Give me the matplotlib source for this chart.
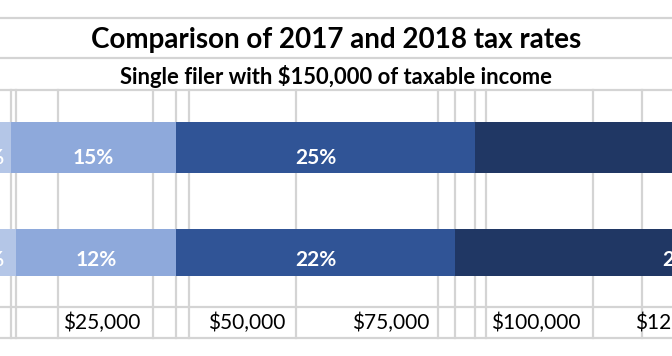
import matplotlib.pyplot as plt
import numpy as np

plt.rcParams['font.family'] = ['Lato', 'DejaVu Sans']

# bracket edges in thousands of dollars
years = ['2017', '2018']
edges_2017 = [0, 9.3, 37.8, 89.6, 191.7]
edges_2018 = [0, 10.1, 37.8, 86.1, 164.7]
rates_2017 = ['10%', '15%', '25%', '28%']
rates_2018 = ['10%', '12%', '22%', '24%']
tick_vals = [25, 50, 75, 100, 125]
tick_labels = ['$25,000', '$50,000', '$75,000', '$100,000', '$125,000']
# spreadsheet column borders behind the chart (thousands of dollars)
col_borders = [9.27, 10.14, 17.4, 33.84, 37.8, 40.07, 58.58, 83.15, 86.09,
               89.55, 91.45, 109.97, 118.45]

colors = ['#B4C6E7', '#8EA9DB', '#305496', '#203764']
grid = '#D4D4D4'

W, H = 672, 356
fig = plt.figure(figsize=(W / 100, H / 100), dpi=100)
ax = fig.add_axes([0, 0, 1, 1])
ax.set_xlim(7.37, 123.6)
ax.set_ylim(1.986, -1.405)
ax.axis('off')

def yf(px):
    return 1 - px / H

# sheet gridlines
for py in [18, 58, 90, 307, 338]:
    fig.add_artist(plt.Line2D([0, 1], [yf(py), yf(py)], color=grid, lw=1.6))
for c in col_borders:
    ax.plot([c, c], [1.814, -0.548], color=grid, lw=1.6, zorder=1)

# stacked bars
all_edges = [edges_2017, edges_2018]
all_rates = [rates_2017, rates_2018]
heights = [0.481, 0.441]
n = len(rates_2017)
for row, (e, r) in enumerate(zip(all_edges, all_rates)):
    e = np.array(e)
    ax.barh(row, np.diff(e), left=e[:-1], height=heights[row], color=colors,
            edgecolor='none', zorder=2)
    for i, lab in enumerate(r):
        # inner labels sit over the span both years share
        if i < n - 1:
            end = min(edges_2017[i + 1], edges_2018[i + 1])
        else:
            end = e[i + 1]
        xc = (e[i] + end) / 2
        ax.text(xc, row + heights[row] / 2 - 0.05, lab, color='white',
                fontsize=15, fontweight='bold', ha='center', va='bottom',
                zorder=3)

for v, lab in zip(tick_vals, tick_labels):
    ax.text(v, 1.667, lab, fontsize=15, ha='center', va='center')

fig.text(0.5, yf(40), 'Comparison of 2017 and 2018 tax rates', fontsize=20,
         fontweight='bold', ha='center', va='center')
fig.text(0.5, yf(76), 'Single filer with $150,000 of taxable income',
         fontsize=15.8, fontweight='bold', ha='center', va='center')

fig.savefig('out.png', dpi=100)
